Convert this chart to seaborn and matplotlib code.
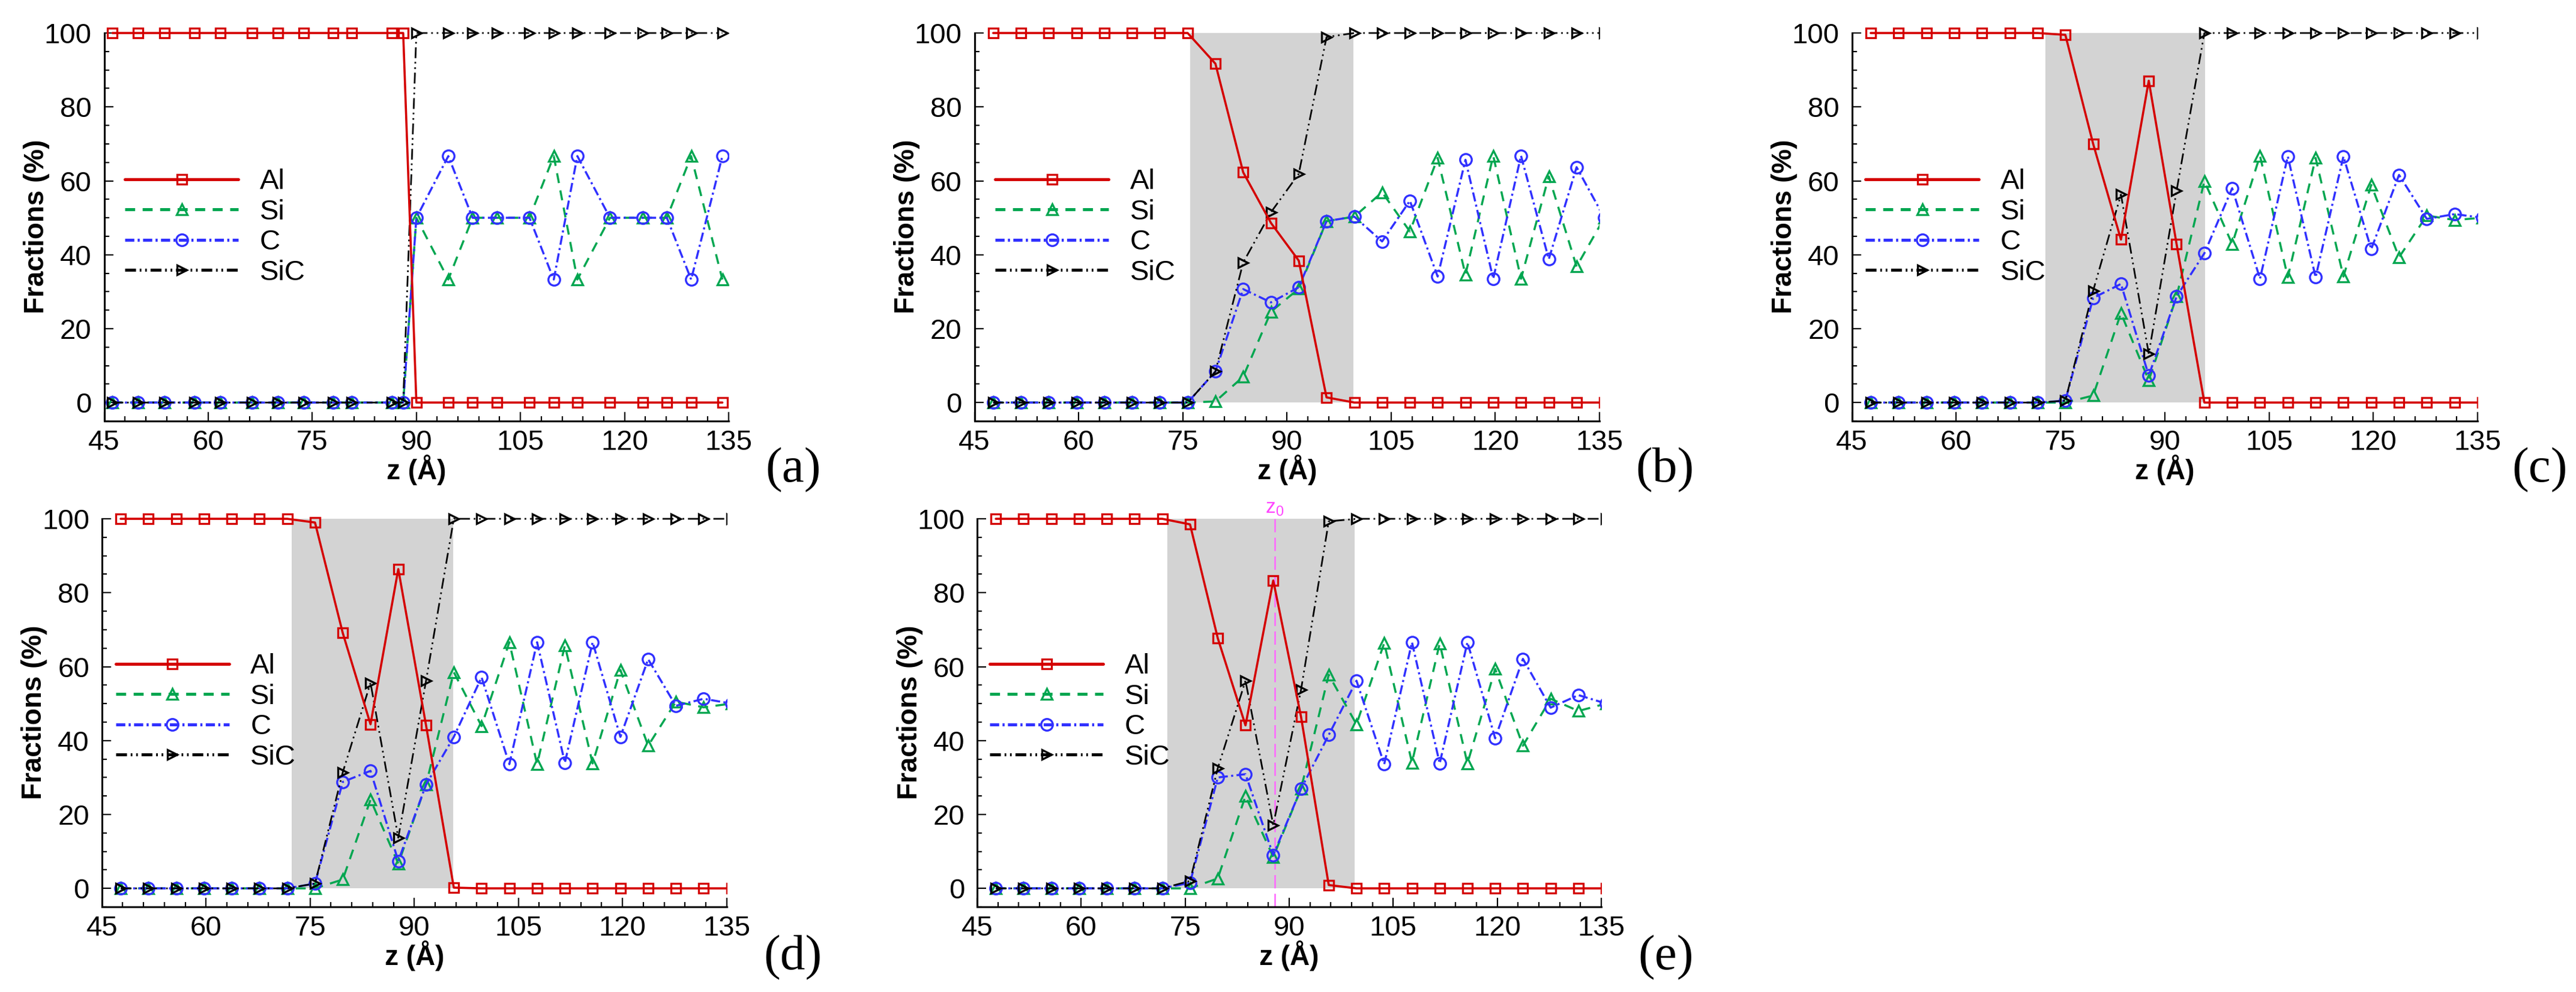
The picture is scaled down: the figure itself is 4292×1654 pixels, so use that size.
import matplotlib
matplotlib.use("Agg")
import matplotlib.pyplot as plt
from matplotlib.ticker import MultipleLocator
import seaborn as sns

# layer positions (Angstrom) for panel (a)
z_a = [46.2, 49.9, 53.7, 58.0, 61.7, 66.3, 70.0, 73.8, 78.0, 80.7, 86.5, 88.1,
       90.0, 94.6, 98.1, 101.6, 106.3, 109.8, 113.2, 117.9, 122.6, 126.1, 129.6, 134.1]
al_a = [100, 100, 100, 100, 100, 100, 100, 100, 100, 100, 100, 100,
        0, 0, 0, 0, 0, 0, 0, 0, 0, 0, 0, 0]
si_a = [0, 0, 0, 0, 0, 0, 0, 0, 0, 0, 0, 0,
        50, 33.3, 50, 50, 50, 66.7, 33.3, 50, 50, 50, 66.7, 33.3]
c_a = [0, 0, 0, 0, 0, 0, 0, 0, 0, 0, 0, 0,
       50, 66.7, 50, 50, 50, 33.3, 66.7, 50, 50, 50, 33.3, 66.7]
sic_a = [0, 0, 0, 0, 0, 0, 0, 0, 0, 0, 0, 0,
         100, 100, 100, 100, 100, 100, 100, 100, 100, 100, 100, 100]

# layer positions (Angstrom) for panels (b)-(e)
z_grid = [47.7, 51.7, 55.7, 59.7, 63.7, 67.7, 71.7, 75.7, 79.7, 83.7, 87.7, 91.7,
          95.7, 99.7, 103.7, 107.7, 111.7, 115.7, 119.7, 123.7, 127.7, 131.7, 135.7]

al_b = [100, 100, 100, 100, 100, 100, 100, 100, 91.7, 62.3, 48.6, 38.4,
        1.4, 0, 0, 0, 0, 0, 0, 0, 0, 0, 0]
si_b = [0, 0, 0, 0, 0, 0, 0, 0, 0.3, 7.0, 24.6, 30.8,
        49.1, 50.3, 56.9, 46.3, 66.2, 34.6, 66.8, 33.5, 61.2, 36.8, 50.0]
c_b = [0, 0, 0, 0, 0, 0, 0, 0, 8.4, 30.7, 27.1, 31.2,
       49.1, 50.3, 43.6, 54.6, 34.1, 65.7, 33.5, 66.8, 38.8, 63.7, 50.0]
sic_b = [0, 0, 0, 0, 0, 0, 0, 0, 8.4, 37.9, 51.5, 61.9,
         98.9, 100, 100, 100, 100, 100, 100, 100, 100, 100, 100]

al_c = [100, 100, 100, 100, 100, 100, 100, 99.5, 70.0, 44.1, 87.1, 42.9,
        0, 0, 0, 0, 0, 0, 0, 0, 0, 0, 0]
si_c = [0, 0, 0, 0, 0, 0, 0, 0, 1.9, 24.2, 6.0, 28.7,
        59.9, 42.9, 66.8, 33.9, 66.2, 34.1, 58.9, 39.3, 50.6, 49.4, 50.0]
c_c = [0, 0, 0, 0, 0, 0, 0, 0.5, 28.3, 32.1, 7.3, 28.7,
       40.4, 58.0, 33.5, 66.6, 33.9, 66.6, 41.5, 61.6, 49.7, 51.0, 50.0]
sic_c = [0, 0, 0, 0, 0, 0, 0, 0.5, 30.3, 56.3, 13.2, 57.3,
         100, 100, 100, 100, 100, 100, 100, 100, 100, 100, 100]

al_d = [100, 100, 100, 100, 100, 100, 100, 99.0, 69.1, 44.4, 86.4, 44.1,
        0.2, 0, 0, 0, 0, 0, 0, 0, 0, 0, 0]
si_d = [0, 0, 0, 0, 0, 0, 0, 0, 2.4, 24.0, 6.7, 28.1,
        58.5, 43.9, 66.6, 33.6, 65.7, 33.8, 59.1, 38.6, 50.5, 49.0, 50.0]
c_d = [0, 0, 0, 0, 0, 0, 0, 1.3, 28.8, 31.8, 7.4, 28.1,
       41.0, 57.1, 33.6, 66.6, 34.0, 66.6, 41.0, 62.0, 49.4, 51.3, 50.0]
sic_d = [0, 0, 0, 0, 0, 0, 0, 1.3, 31.4, 55.6, 13.7, 56.2,
         100, 100, 100, 100, 100, 100, 100, 100, 100, 100, 100]

al_e = [100, 100, 100, 100, 100, 100, 100, 98.5, 67.7, 44.1, 83.3, 46.5,
        0.9, 0, 0, 0, 0, 0, 0, 0, 0, 0, 0]
si_e = [0, 0, 0, 0, 0, 0, 0, 0, 2.7, 25.0, 8.5, 26.9,
        57.8, 44.4, 66.4, 34.0, 66.3, 33.8, 59.4, 38.6, 51.3, 48.0, 50.0]
c_e = [0, 0, 0, 0, 0, 0, 0, 1.5, 30.0, 30.9, 9.0, 26.9,
       41.5, 56.2, 33.6, 66.6, 33.8, 66.6, 40.6, 62.1, 48.9, 52.3, 50.0]
sic_e = [0, 0, 0, 0, 0, 0, 0, 2.0, 32.5, 56.2, 17.1, 53.7,
         99.3, 100, 100, 100, 100, 100, 100, 100, 100, 100, 100]

# interface (grey) regions and z0 position
shade_b = [76.1, 99.6]
shade_c = [72.8, 95.8]
shade_d = [72.3, 95.6]
shade_e = [72.4, 99.4]
z0_e = 87.9

panel_names = ["(a)", "(b)", "(c)", "(d)", "(e)"]

sns.set_theme(style="ticks", rc={"axes.edgecolor": "black", "xtick.color": "black",
                                 "ytick.color": "black", "text.color": "black",
                                 "axes.labelcolor": "black"})
plt.rcParams['font.family'] = ['Liberation Sans Narrow', 'Liberation Sans', 'DejaVu Sans']
plt.rcParams['lines.scale_dashes'] = False
plt.rcParams['mathtext.default'] = 'regular'

styles = {
    "Al": dict(color="#d40000", marker="s", ms=12, ls="-", lw=2.6),
    "Si": dict(color="#00a650", marker="^", ms=12.5, ls=(0, (12, 9)), lw=2.5),
    "C": dict(color="#3030ff", marker="o", ms=14, ls=(0, (11, 4, 2.5, 4)), lw=2.5),
    "SiC": dict(color="black", marker=">", ms=12, ls=(0, (13, 4.5, 2, 4.5, 2, 4.5)), lw=2.0),
}

W, H = 4292, 1654
fig = plt.figure(figsize=(W / 100, H / 100), dpi=100)


def px_axes(left, right, bottom, top):
    return fig.add_axes([left / W, 1 - bottom / H, (right - left) / W, (bottom - top) / H])


def draw_panel(ax, z, al, si, c, sic, shade, leg_x, leg_y):
    if shade is not None:
        ax.fill_between(shade, 0, 100, color="#d3d3d3", lw=0, zorder=0)
    series = {"Al": al, "Si": si, "C": c, "SiC": sic}
    for name in ["Si", "C", "SiC", "Al"]:
        st = styles[name]
        sns.lineplot(x=z, y=series[name], ax=ax, estimator=None, sort=False, label=name,
                     color=st["color"], marker=st["marker"], markersize=st["ms"],
                     linestyle=st["ls"], linewidth=st["lw"], markerfacecolor="none",
                     markeredgecolor=st["color"], markeredgewidth=2.4)
    ax.set_xlim(45, 135)
    ax.set_ylim(-5, 104)
    ax.xaxis.set_major_locator(MultipleLocator(15))
    ax.xaxis.set_minor_locator(MultipleLocator(3))
    ax.yaxis.set_major_locator(MultipleLocator(20))
    ax.yaxis.set_minor_locator(MultipleLocator(5))
    ax.tick_params(which="both", direction="in", top=False, right=False, width=1.6)
    ax.tick_params(which="major", length=11)
    ax.tick_params(which="minor", length=6)
    ax.tick_params(axis="x", pad=10, labelsize=34)
    ax.tick_params(axis="y", pad=15, labelsize=34)
    sns.despine(ax=ax)
    for s in ["left", "bottom"]:
        ax.spines[s].set_linewidth(2.2)
    ax.spines["left"].set_bounds(-5, 100)

    ax.set_xlabel("z (Å)", fontsize=33, fontweight="bold", family="Liberation Sans", va="center")
    ax.xaxis.set_label_coords(0.5, -0.121)
    ax.set_ylabel("Fractions (%)", fontsize=33, fontweight="bold", family="Liberation Sans",
                  va="center")
    ax.yaxis.set_label_coords(-0.108, 0.483)

    handles, labels = ax.get_legend_handles_labels()
    order = [labels.index(n) for n in ["Al", "Si", "C", "SiC"]]
    leg = ax.legend([handles[i] for i in order], [labels[i] for i in order],
                    loc="center left", bbox_to_anchor=(leg_x, leg_y), frameon=False,
                    handlelength=4.0, handletextpad=0.75, labelspacing=0.14,
                    borderpad=0, borderaxespad=0, fontsize=34, numpoints=1)
    for line in leg.get_lines():
        line.set_linewidth(3.6)


ax_a = px_axes(173.5, 1214, 702, 30.4)
draw_panel(ax_a, z_a, al_a, si_a, c_a, sic_a, None, 0.0336, 0.481)

ax_b = px_axes(1623.5, 2665, 702, 30.4)
draw_panel(ax_b, z_grid, al_b, si_b, c_b, sic_b, shade_b, 0.0336, 0.481)

ax_c = px_axes(3085.6, 4128, 702, 30.4)
draw_panel(ax_c, z_grid, al_c, si_c, c_c, sic_c, shade_c, 0.0217, 0.481)

ax_d = px_axes(169.8, 1210.6, 1512, 840.4)
draw_panel(ax_d, z_grid, al_d, si_d, c_d, sic_d, shade_d, 0.0223, 0.484)

ax_e = px_axes(1628, 2668, 1512, 840.4)
draw_panel(ax_e, z_grid, al_e, si_e, c_e, sic_e, shade_e, 0.0206, 0.484)

# z0 marker in panel (e)
ax_e.vlines(z0_e, -5, 100, colors="#ff66ff", linestyles=(0, (16, 6.5)), lw=1.8, zorder=1.5)
ax_e.text(z0_e, 102.8, r"$\mathregular{z_0}$", color="#ff44ff", fontsize=24,
          ha="center", va="center", clip_on=False)

# panel letters
label_pos = [(1322, 784), (2774, 784), (4232, 784), (1321, 1597), (2776, 1597)]
for name, (px, py) in zip(panel_names, label_pos):
    fig.text(px / W, 1 - py / H, name, ha="center", va="center",
             family="Liberation Serif", fontsize=60)

fig.savefig("out.png", dpi=100)
